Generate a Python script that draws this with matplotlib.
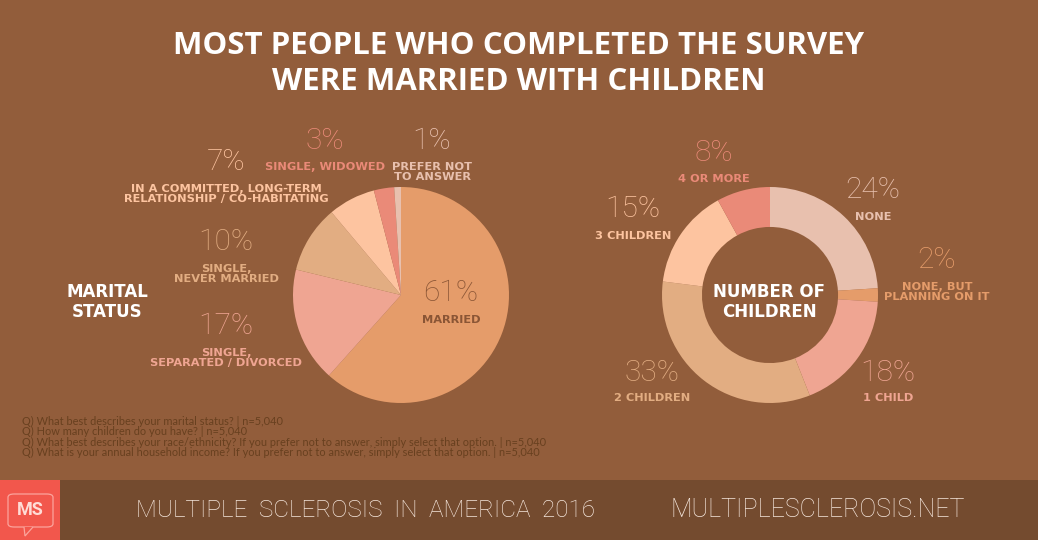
import matplotlib
matplotlib.use("Agg")
import matplotlib.pyplot as plt
from matplotlib.patches import Rectangle, FancyBboxPatch, Polygon

W, H = 1038, 540
BG = "#925D3B"
FOOT = "#744B2F"

# ---- data ----
marital_labels = ["MARRIED", "SINGLE,\nSEPARATED / DIVORCED", "SINGLE,\nNEVER MARRIED",
                  "IN A COMMITTED, LONG-TERM\nRELATIONSHIP / CO-HABITATING",
                  "SINGLE, WIDOWED", "PREFER NOT\nTO ANSWER"]
marital_values = [61, 17, 10, 7, 3, 1]
marital_colors = ["#E59C6A", "#EFA592", "#E2AD82", "#FDC4A0", "#EA8A78", "#E8C0AE"]

children_labels = ["NONE", "NONE, BUT\nPLANNING ON IT", "1 CHILD", "2 CHILDREN",
                   "3 CHILDREN", "4 OR MORE"]
children_values = [24, 2, 18, 33, 15, 8]
children_colors = ["#E8C0AE", "#E59C6A", "#EFA592", "#E2AD82", "#FDC4A0", "#EA8A78"]

footnotes = [
    "Q) What best describes your marital status? | n=5,040",
    "Q) How many children do you have? | n=5,040",
    "Q) What best describes your race/ethnicity? If you prefer not to answer, simply select that option. | n=5,040",
    "Q) What is your annual household income? If you prefer not to answer, simply select that option. | n=5,040",
]

fig = plt.figure(figsize=(W / 100, H / 100), dpi=100, facecolor=BG)


def fx(x):
    return x / W


def fy(y):
    return 1 - y / H


def px_axes(cx, cy, r):
    return fig.add_axes([fx(cx - r), fy(cy + r), 2 * r / W, 2 * r / H])


def txt(x, y, s, size, color, weight="normal", family="Lato", **kw):
    fig.text(fx(x), fy(y), s, fontsize=size, color=color, weight=weight,
             family=[family, "DejaVu Sans"], ha="center", va="center", **kw)


# ---- title ----
txt(519, 46, "MOST PEOPLE WHO COMPLETED THE SURVEY", 22.5, "white", weight="bold",
    family="Open Sans")
txt(519, 82, "WERE MARRIED WITH CHILDREN", 22.5, "white", weight="bold", family="Open Sans")

# ---- marital pie ----
ax1 = px_axes(401, 295, 108)
ax1.pie(marital_values, colors=marital_colors, startangle=90, counterclock=False,
        radius=1, wedgeprops=dict(linewidth=0))
ax1.set_xlim(-1, 1)
ax1.set_ylim(-1, 1)
ax1.set_aspect("auto")
ax1.axis("off")

# ---- children donut ----
ax2 = px_axes(770, 295, 108)
ax2.pie(children_values, colors=children_colors, startangle=90, counterclock=False,
        radius=1, wedgeprops=dict(width=0.37, linewidth=0))
ax2.set_xlim(-1, 1)
ax2.set_ylim(-1, 1)
ax2.set_aspect("auto")
ax2.axis("off")

PCT = 21.5
PCTFAM = "Roboto"
LAB = 8.2
LABFAM = "DejaVu Sans"

# marital labels: (pct x, pct y, label y)
m_pos = [
    (451, 293, 320, "#8A5535"),
    (226, 326, 358, None),
    (226, 242, 274, None),
    (226, 162, 194, None),
    (325, 141, 167, None),
    (432, 141, 172, None),
]
for (x, yp, yl, c), lab, v, col in zip(m_pos, marital_labels, marital_values, marital_colors):
    colr = c if c else col
    txt(x, yp, f"{v}%", PCT, colr, weight="light", family=PCTFAM)
    txt(x, yl, lab, LAB, colr, weight="bold", family=LABFAM, linespacing=0.95)

txt(107, 302, "MARITAL\nSTATUS", 12, "white", weight="bold", family=LABFAM,
    linespacing=1.2)

c_pos = [
    (873, 190, 217),
    (937, 260, 292),
    (888, 373, 398),
    (652, 373, 398),
    (633, 209, 236),
    (714, 153, 179),
]
for (x, yp, yl), lab, v, col in zip(c_pos, children_labels, children_values, children_colors):
    txt(x, yp, f"{v}%", PCT, col, weight="light", family=PCTFAM)
    txt(x, yl, lab, LAB, col, weight="bold", family=LABFAM, linespacing=0.95)

txt(769, 302, "NUMBER OF\nCHILDREN", 12, "white", weight="bold", family=LABFAM,
    linespacing=1.2)

# ---- footnotes ----
for i, line in enumerate(footnotes):
    fig.text(fx(22), fy(421 + i * 10.5), line, fontsize=7.9, color="#68401F",
             family=["Lato", "DejaVu Sans"], ha="left", va="center")

# ---- footer ----
fig.patches.append(Rectangle((0, 0), 1, fy(480), transform=fig.transFigure,
                             facecolor=FOOT, edgecolor="none", zorder=0))
fig.patches.append(Rectangle((0, 0), fx(60), fy(480), transform=fig.transFigure,
                             facecolor="#F2574C", edgecolor="none", zorder=1))
fig.patches.append(FancyBboxPatch((fx(8), fy(527)), fx(45), fy(494) - fy(527),
                                  boxstyle="round,pad=0,rounding_size=0.006",
                                  transform=fig.transFigure, facecolor="none",
                                  edgecolor="#FBA49C", linewidth=0.9, zorder=2))
fig.patches.append(Polygon([(fx(24), fy(527)), (fx(25), fy(536)), (fx(33), fy(527))],
                           closed=False, transform=fig.transFigure, facecolor="#F2574C",
                           edgecolor="#FBA49C", linewidth=0.9, zorder=3))
txt(30, 510, "MS", 13, "#FFDCD6", weight="bold", family="Roboto")

txt(365, 510, "MULTIPLE  SCLEROSIS  IN  AMERICA  2016", 17.5, "#F5E6DC", weight="light",
    family="Roboto")
txt(818, 510, "MULTIPLESCLEROSIS.NET", 18, "#F5E6DC", weight="light", family="Roboto")

fig.savefig("out.png", dpi=100, facecolor=BG)
